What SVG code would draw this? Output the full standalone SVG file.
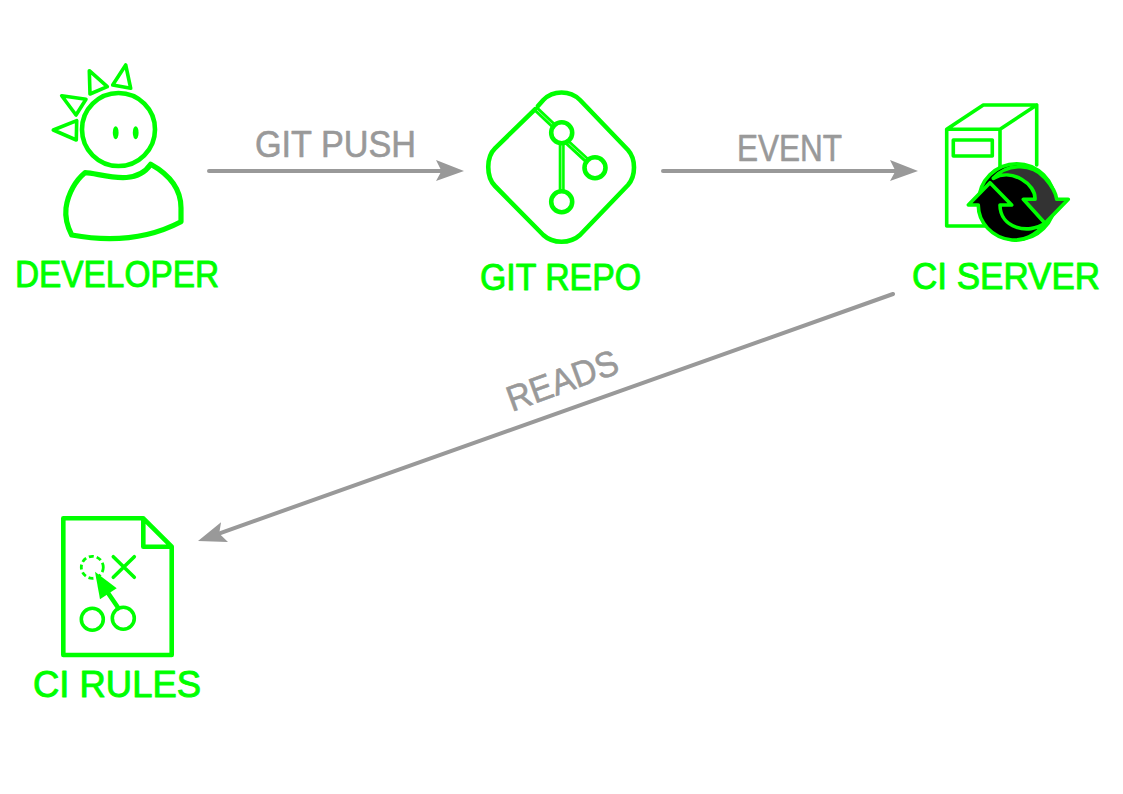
<svg xmlns="http://www.w3.org/2000/svg" width="1123" height="794" viewBox="0 0 1123 794">
<style>
.line{fill:none;stroke:#00ff00;stroke-linejoin:round;stroke-linecap:round}
.w3{stroke-width:3.600}.w4{stroke-width:4.600}.w5{stroke-width:5.200}
.stem{stroke-width:6}
.knock{fill:#ffffff}
.inner{fill:none;stroke:#ffffff;stroke-width:1;opacity:.55}
.conn{fill:none;stroke:#999999;stroke-width:4;stroke-linecap:round}
.head{fill:#999999}
text{font-family:"Liberation Sans","DejaVu Sans",sans-serif;font-size:36px;stroke-linejoin:round}
.nl{fill:#00ff00;stroke:#00ff00;stroke-width:1}
.el{fill:#999999;stroke:#999999;stroke-width:.6}
</style>
<defs>
<marker id="arrow" markerUnits="userSpaceOnUse" markerWidth="30" markerHeight="22" refX="14" refY="11" orient="auto"><path class="head" d="M0 0L28 11L0 21L5.500 11Z"/></marker>
</defs>
<rect width="1123" height="794" fill="#ffffff"/>
<g id="connectors">
<path class="conn" marker-end="url(#arrow)" d="M209 171H450"/>
<path class="conn" marker-end="url(#arrow)" d="M663 171H904"/>
<path class="conn" marker-end="url(#arrow)" d="M893 294L211.200 536.300"/>
</g>
<g id="edge-labels">
<text class="el" x="255" y="157" textLength="161" lengthAdjust="spacingAndGlyphs">GIT PUSH</text>
<text class="el" x="737" y="161" textLength="105" lengthAdjust="spacingAndGlyphs">EVENT</text>
<text class="el" transform="translate(512 412) rotate(-20)" textLength="116" lengthAdjust="spacingAndGlyphs">READS</text>
</g>
<g id="developer">
<circle class="line w4" cx="118.500" cy="129.500" r="36.500"/>
<ellipse cx="115.700" cy="132.700" rx="2.900" ry="6.500" fill="#00ff00"/>
<ellipse cx="135.700" cy="132.700" rx="2.900" ry="6.500" fill="#00ff00"/>
<path class="line w3" d="M125.700 65L130.700 88.300L112.700 85Z"/>
<path class="line w3" d="M89.300 70.700L107.300 86.700L90 94Z"/>
<path class="line w3" d="M61.700 95.700L86 99.300L76 115Z"/>
<path class="line w3" d="M53.300 130L76.700 120.700L76.300 140Z"/>
<path class="line w5" d="M150.700 164.300C170 175 181 190 181 208L181 221.700C150 238 115 243 71.700 235C66 224 65 217 66 208C68 193 76 180 85 172.700C100 173 135 188 150.700 164.300Z"/>
<text class="nl" x="15" y="287" textLength="204" lengthAdjust="spacingAndGlyphs">DEVELOPER</text>
</g>
<g id="git-repo">
<path class="line w4" d="M535 109.300L495 148.300C486 157 486 177 495 186L543.300 235C553 244 570 244 580 235L628 185C636 176 636 159 628 150L580 100C570 90 553 90 543.300 100L538 106"/>
<path class="line stem" d="M537 110L555 127M561.700 143V191M566.700 141.700L588.300 161.700"/>
<path class="inner" d="M537 110L555 127M561.700 145V189M567 142L588 161"/>
<circle class="line w4 knock" style="fill:#ffffff" cx="561.700" cy="132.700" r="10.500"/>
<circle class="line w4 knock" style="fill:#ffffff" cx="595" cy="167.700" r="10.500"/>
<circle class="line w4 knock" style="fill:#ffffff" cx="561.700" cy="201.700" r="10.500"/>
<text class="nl" x="480" y="290" textLength="161" lengthAdjust="spacingAndGlyphs">GIT REPO</text>
</g>
<g id="ci-server">
<path class="line w3" d="M946.700 129.300H1000V226H946.700ZM946.700 129.300L983.300 105H1036.700V165M1000 129.300L1036.700 105"/>
<rect class="line w3" x="953.300" y="140" width="39" height="16"/>
<circle cx="1016.700" cy="201.700" r="38" fill="#000000" stroke="#00ff00" stroke-width="3.600"/>
<path d="M993.300 178.300C1005 165 1030 161 1045 178C1052 186 1056 193 1056.700 199.300H1068.300L1045 223.300L1023.300 199.300H1035C1036 184 1012 168 993.300 178.300Z" fill="#333333" stroke="#00ff00" stroke-width="3.600" stroke-linejoin="round"/>
<path d="M968.300 205L990 182.700L1011.700 205H1000C1000 228 1028 235 1045 223.300C1036 236 1022 241 1012 240C992 238 978 222 978.300 205Z" fill="#000000" stroke="#00ff00" stroke-width="3.600" stroke-linejoin="round"/>
<text class="nl" x="912" y="289" textLength="188" lengthAdjust="spacingAndGlyphs">CI SERVER</text>
</g>
<g id="ci-rules">
<path class="line w4" d="M63.300 518.300H143.300L171.700 546.700V655H63.300ZM143.300 518.300V546.700H171.700"/>
<circle cx="92.300" cy="567.300" r="11" fill="none" stroke="#00ff00" stroke-width="2.800" stroke-dasharray="5 3"/>
<path class="line w3" d="M113.300 556.700L134.300 577.300M134.300 556.700L113.300 577.300"/>
<circle class="line w3" cx="92.300" cy="619.300" r="11"/>
<circle class="line w3" cx="123.300" cy="618.300" r="11"/>
<path class="line w4" d="M118.300 608L106 590"/>
<path d="M95 571.700L100 599.300L116.700 588.300Z" fill="#00ff00"/>
<text class="nl" x="33" y="697" textLength="168" lengthAdjust="spacingAndGlyphs">CI RULES</text>
</g>
</svg>
